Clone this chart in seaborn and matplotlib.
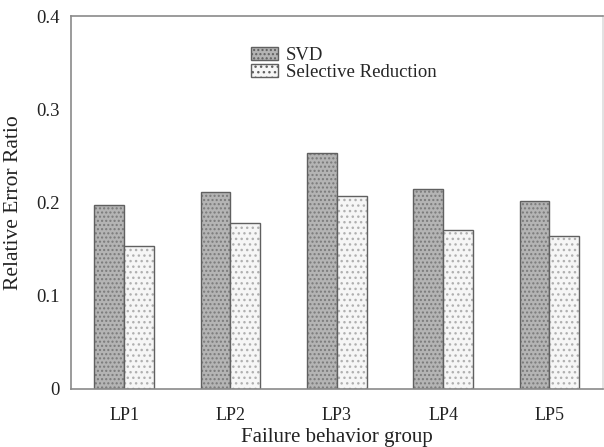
import matplotlib
matplotlib.use("Agg")
import matplotlib.pyplot as plt
import seaborn as sns
import pandas as pd

groups = ["LP1", "LP2", "LP3", "LP4", "LP5"]
svd = [0.197, 0.211, 0.253, 0.214, 0.202]
selective = [0.153, 0.178, 0.207, 0.170, 0.164]
methods = ["SVD", "Selective Reduction"]
y_ticks = [0, 0.1, 0.2, 0.3, 0.4]
y_tick_labels = ["0", "0.1", "0.2", "0.3", "0.4"]

df = pd.DataFrame({
    "group": groups * 2,
    "ratio": svd + selective,
    "method": [methods[0]] * len(groups) + [methods[1]] * len(groups),
})

sns.set_theme(style="white")
plt.rcParams["font.family"] = ["Liberation Serif", "DejaVu Serif"]
plt.rcParams["hatch.linewidth"] = 1.0

fig = plt.figure(figsize=(6.04, 4.47), dpi=100)
ax = fig.add_axes([0.1176, 0.130, 0.880, 0.834])

palette = {"SVD": "#b4b4b4", "Selective Reduction": "#f6f6f6"}
sns.barplot(data=df, x="group", y="ratio", hue="method", palette=palette,
            width=0.56, edgecolor="#606060", linewidth=1.0, ax=ax,
            saturation=1, legend=True)

hatches = {"SVD": "....", "Selective Reduction": "..."}
hatch_cols = {"SVD": "#7a7a7a", "Selective Reduction": "#b0b0b0"}
for container, m in zip(ax.containers, methods):
    for bar in container:
        bar.set_hatch(hatches[m])
        bar._hatch_color = matplotlib.colors.to_rgba(hatch_cols[m])

ax.set_xlim(-0.5, 4.5)
ax.set_ylim(0, 0.4)
ax.set_yticks(y_ticks)
ax.set_yticklabels(y_tick_labels)
ax.tick_params(axis="y", length=0, labelsize=13.5, colors="#222222", pad=8)
ax.tick_params(axis="x", length=0, labelsize=13, colors="#222222", pad=13)
ax.set_xlabel("Failure behavior group", fontsize=15, color="#222222", labelpad=3)
ax.set_ylabel("Relative Error Ratio", fontsize=15.5, color="#222222", labelpad=10)

for s in ax.spines.values():
    s.set_color("#8a8a8a")
    s.set_linewidth(1.2)
ax.spines["right"].set_color("#dddddd")

leg = ax.legend(loc="upper left", bbox_to_anchor=(0.306, 0.963), frameon=False,
                fontsize=13.5, handlelength=1.45, handleheight=0.7,
                labelspacing=0.0, handletextpad=0.45)
for h, m in zip(leg.legend_handles, methods):
    h.set_hatch(hatches[m])
    h._hatch_color = matplotlib.colors.to_rgba(hatch_cols[m])
    h.set_edgecolor("#606060")

fig.savefig("out.png", dpi=100)
